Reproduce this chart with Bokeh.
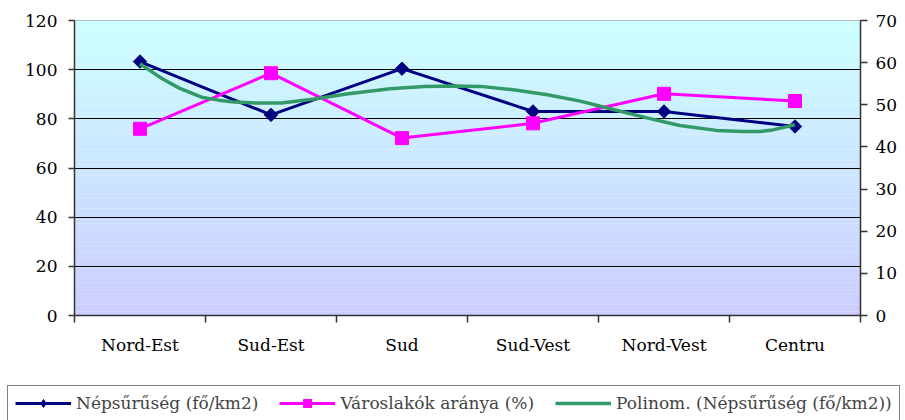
from bokeh.plotting import figure
from bokeh.models import Range1d, LinearAxis, FixedTicker, Legend, LegendItem
from bokeh.embed import file_html
from bokeh.resources import INLINE
import math

# ---- data ----
regions = ["Nord-Est", "Sud-Est", "Sud", "Sud-Vest", "Nord-Vest", "Centru"]
nepsuruseg = [103.3, 81.6, 100.4, 83.0, 83.0, 76.9]          # left axis
varoslakok = [44.3, 57.5, 42.1, 45.6, 52.6, 50.9]            # right axis (%)
# polynomial trendline (x = category index, 0 = Nord-Est)
trend_idx = [0.00, 0.08, 0.17, 0.30, 0.47, 0.60, 0.72, 0.90, 1.08, 1.33, 1.59, 1.91,
             2.17, 2.40, 2.60, 2.85, 3.11, 3.36, 3.59, 3.87, 4.12, 4.40, 4.60, 4.73,
             4.83, 5.00]
trend_val = [102.4, 99.5, 96.3, 92.5, 88.8, 87.6, 86.8, 86.4, 86.4, 88.1, 90.2, 92.2,
             93.2, 93.4, 93.2, 91.8, 89.8, 87.2, 84.1, 80.4, 77.3, 75.3, 74.8, 74.8,
             75.5, 77.6]
left_ticks = [0, 20, 40, 60, 80, 100, 120]
right_ticks = [0, 10, 20, 30, 40, 50, 60, 70]
series_names = ["Népsűrűség (fő/km2)", "Városlakók aránya (%)",
                "Polinom. (Népsűrűség (fő/km2))"]

FONT = "DejaVu Serif"
FS = "17px"
AXC = "#333333"
C1, C2, C3 = "#000080", "#FF00FF", "#339966"

xs = [i + 0.5 for i in range(len(regions))]
trend_x = [t + 0.5 for t in trend_idx]

p = figure(width=905, height=380, x_range=Range1d(0, len(regions)),
           y_range=Range1d(left_ticks[0], left_ticks[-1]),
           output_backend="svg", toolbar_location=None,
           min_border_left=74, min_border_right=45, min_border_top=20,
           min_border_bottom=65)
p.extra_y_ranges = {"pct": Range1d(right_ticks[0], right_ticks[-1])}
p.background_fill_color = "white"
p.border_fill_color = "white"
p.outline_line_color = "#999999"

# gradient background (style only)
nb = 80
lo, hi = left_ticks[0], left_ticks[-1]
step = (hi - lo) / nb
bot, top, cols = [], [], []
for k in range(nb):
    f = (k + 0.5) / nb
    g = int(round(204 + (255 - 204) * f))
    bot.append(lo + k * step)
    top.append(lo + (k + 1) * step + step * 0.05)
    cols.append("#%02x%02x%02x" % (204, g, 255))
p.quad(left=0, right=len(regions), bottom=bot, top=top, fill_color=cols,
       line_color=None, level="image")

# grid
p.xgrid.visible = False
p.ygrid.ticker = FixedTicker(ticks=left_ticks[1:-1])
p.ygrid.grid_line_color = "black"
p.ygrid.grid_line_width = 1

# series
p.line(xs, nepsuruseg, line_color=C1, line_width=3)
p.scatter(xs, nepsuruseg, marker="square", angle=math.pi / 4, size=9.5,
          fill_color=C1, line_color=C1)
p.line(xs, varoslakok, line_color=C2, line_width=3, y_range_name="pct")
p.scatter(xs, varoslakok, marker="square", size=13, fill_color=C2,
          line_color=C2, y_range_name="pct")
p.line(trend_x, trend_val, line_color=C3, line_width=3.5)

# axes
xa = p.xaxis[0]
xa.ticker = FixedTicker(ticks=xs, minor_ticks=list(range(len(regions) + 1)))
xa.major_label_overrides = {x: r for x, r in zip(xs, regions)}
xa.major_tick_line_color = None
xa.major_tick_out = 0
xa.major_tick_in = 0
xa.minor_tick_in = 0
xa.minor_tick_out = 7
xa.minor_tick_line_color = AXC
xa.minor_tick_line_width = 1.5
xa.major_label_standoff = 12

ya = p.yaxis[0]
ya.ticker = FixedTicker(ticks=left_ticks)
ya.major_tick_out = 6
ya.major_tick_in = 0
ya.major_label_standoff = 11

ra = LinearAxis(y_range_name="pct", ticker=FixedTicker(ticks=right_ticks))
ra.major_tick_out = 7
ra.major_tick_in = 0
ra.major_label_standoff = 8
p.add_layout(ra, "right")

for ax in (xa, ya, ra):
    ax.axis_line_color = AXC
    ax.axis_line_width = 1.5
    ax.major_label_text_font = FONT
    ax.major_label_text_font_size = FS
    ax.major_label_text_color = "black"
    ax.major_label_text_font_style = "normal"
for ax in (ya, ra):
    ax.major_tick_line_color = AXC
    ax.major_tick_line_width = 1.5
    ax.minor_tick_line_color = None

# ---- legend strip (separate figure below the chart) ----
lf = figure(width=905, height=40, x_range=Range1d(-100, -99), y_range=Range1d(-100, -99),
            output_backend="svg", toolbar_location=None,
            x_axis_location=None, y_axis_location=None,
            min_border=0, min_border_left=0, min_border_right=0,
            min_border_top=0, min_border_bottom=0)
lf.grid.visible = False
lf.outline_line_color = None
lf.background_fill_color = "white"
lf.border_fill_color = "white"
# same series, drawn outside the strip's visible range: only their legend glyphs show
g1 = lf.line(xs, nepsuruseg, line_color=C1, line_width=3)
g1m = lf.scatter(xs, nepsuruseg, marker="diamond", size=15, fill_color=C1, line_color=C1)
g2 = lf.line(xs, varoslakok, line_color=C2, line_width=3)
g2m = lf.scatter(xs, varoslakok, marker="square", size=9, fill_color=C2, line_color=C2)
g3 = lf.line(trend_x, trend_val, line_color=C3, line_width=3.5)

legend = Legend(items=[
    LegendItem(label=series_names[0], renderers=[g1, g1m]),
    LegendItem(label=series_names[1], renderers=[g2, g2m]),
    LegendItem(label=series_names[2], renderers=[g3]),
], orientation="horizontal", location=(7, -1))
legend.border_line_color = "black"
legend.border_line_width = 1
legend.background_fill_color = "white"
legend.background_fill_alpha = 1
legend.label_text_font = FONT
legend.label_text_font_size = FS
legend.glyph_width = 56
legend.glyph_height = 20
legend.label_standoff = 5
legend.spacing = 21
legend.padding = 7
legend.margin = 0
lf.add_layout(legend, "center")

open("out.html", "w").write(file_html([p, lf], INLINE))
